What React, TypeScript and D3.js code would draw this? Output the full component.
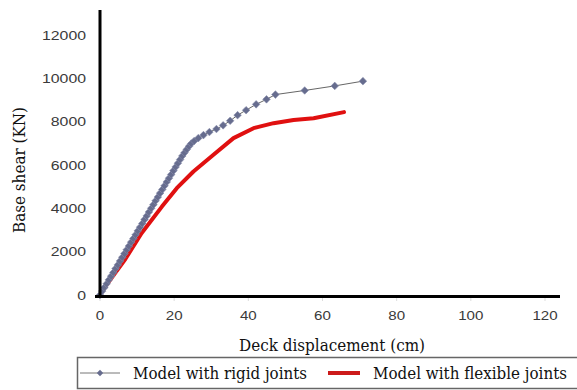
import React from "react";
import * as d3 from "d3";

const xTicks = [0, 20, 40, 60, 80, 100, 120];
const yTicks = [0, 2000, 4000, 6000, 8000, 10000, 12000];

const rigidX = [0, 0.6, 1.2, 1.8, 2.4, 3.0, 3.6, 4.2, 4.8, 5.4, 6.0, 6.6, 7.2, 7.8, 8.4, 9.0, 9.6, 10.2, 10.8, 11.4, 12.0, 12.6, 13.2, 13.8, 14.4, 15.0, 15.6, 16.2, 16.8, 17.4, 18.0, 18.6, 19.2, 19.8, 20.4, 21.0, 21.6, 22.2, 22.8, 23.4, 24.0, 24.6, 25.4, 26.5, 27.9, 29.5, 31.4, 33.2, 35.1, 37.1, 39.4, 42.1, 44.9, 47.3, 55.2, 63.3, 70.9];
const rigidY = [0, 180, 350, 520, 700, 870, 1040, 1220, 1390, 1570, 1740, 1910, 2090, 2260, 2440, 2610, 2780, 2960, 3130, 3300, 3480, 3650, 3830, 4000, 4170, 4350, 4520, 4700, 4870, 5040, 5220, 5390, 5560, 5740, 5910, 6080, 6250, 6420, 6570, 6720, 6860, 6990, 7110, 7240, 7380, 7520, 7660, 7830, 8040, 8300, 8530, 8800, 9030, 9250, 9440, 9650, 9870];

const flexX = [0, 0.5, 2.0, 6.8, 11.2, 16.7, 20.7, 25.2, 30.6, 36.0, 41.4, 46.8, 52.2, 57.6, 65.8];
const flexY = [0, 150, 520, 1650, 2850, 4080, 4930, 5700, 6470, 7240, 7700, 7930, 8080, 8160, 8440];

const rigidLabel = "Model with rigid joints";
const flexLabel = "Model with flexible joints";

const SERIF = "'DejaVu Serif', 'Liberation Serif', 'Noto Serif', serif";
const SANS = "'Liberation Sans', Arial, Helvetica, sans-serif";

export default function App() {
  const W = 577, H = 390;
  const x = d3.scaleLinear().domain([0, 120]).range([100, 545]);
  const y = d3.scaleLinear().domain([0, 12000]).range([295, 35]);

  const rigid = rigidX.map((v, i) => [v, rigidY[i]] as [number, number]);
  const flex = flexX.map((v, i) => [v, flexY[i]] as [number, number]);
  const line = d3.line<[number, number]>().x(d => x(d[0])).y(d => y(d[1]));

  const diamond = (cx: number, cy: number, r: number) =>
    `M${cx},${cy - r}L${cx + r},${cy}L${cx},${cy + r}L${cx - r},${cy}Z`;

  return (
    <svg width={W} height={H} style={{ position: "absolute", left: 0, top: 0, background: "#fff" }}>
      <rect x={0} y={0} width={W} height={H} fill="#fff" />
      {xTicks.map(t => (
        <line key={"xt" + t} x1={x(t)} x2={x(t)} y1={297} y2={301} stroke="#ddd" strokeWidth={1} />
      ))}
      {xTicks.map(t => (
        <text key={"xl" + t} x={x(t)} y={320} textAnchor="middle" fontFamily={SANS}
          fontSize={12.5} fill="#3a3a3a" textLength={String(t).length * 8.4} lengthAdjust="spacingAndGlyphs">{t}</text>
      ))}
      {yTicks.map(t => (
        <text key={"yl" + t} x={86} y={y(t) + 4.5} textAnchor="end" fontFamily={SANS}
          fontSize={12.5} fill="#3a3a3a" textLength={String(t).length * 8.8} lengthAdjust="spacingAndGlyphs">{t}</text>
      ))}
      <path d={line(flex) || ""} fill="none" stroke="#e01010" strokeWidth={4} strokeLinejoin="round" strokeLinecap="round" />
      <path d={line(rigid) || ""} fill="none" stroke="#666" strokeWidth={1} />
      {rigid.map((d, i) => (
        <path key={"m" + i} d={diamond(x(d[0]), y(d[1]), 3.8)} fill="#666c8e" stroke="#8a8fac" strokeWidth={0.6} />
      ))}
      <line x1={100} x2={100} y1={10} y2={298} stroke="#000" strokeWidth={3} />
      <line x1={95} x2={560} y1={296.5} y2={296.5} stroke="#000" strokeWidth={3} />
      <text x={332} y={351} textAnchor="middle" fontFamily={SERIF} fontSize={16}
        fill="#111" textLength={186} lengthAdjust="spacingAndGlyphs">Deck displacement (cm)</text>
      <text transform="translate(25,170) rotate(-90)" textAnchor="middle" fontFamily={SERIF}
        fontSize={16} fill="#111" textLength={126} lengthAdjust="spacingAndGlyphs">Base shear (KN)</text>
      <rect x={77.5} y={357.5} width={510} height={31} fill="none" stroke="#666" strokeWidth={1.5} />
      <line x1={80} x2={120} y1={373} y2={373} stroke="#777" strokeWidth={1} />
      <path d={diamond(100, 373, 3.2)} fill="#666c8e" />
      <text x={133} y={379} fontFamily={SERIF} fontSize={16} fill="#111"
        textLength={174} lengthAdjust="spacingAndGlyphs">{rigidLabel}</text>
      <line x1={328} x2={360} y1={373} y2={373} stroke="#cc1a1a" strokeWidth={4} />
      <text x={373} y={379} fontFamily={SERIF} fontSize={16} fill="#111"
        textLength={194} lengthAdjust="spacingAndGlyphs">{flexLabel}</text>
    </svg>
  );
}
